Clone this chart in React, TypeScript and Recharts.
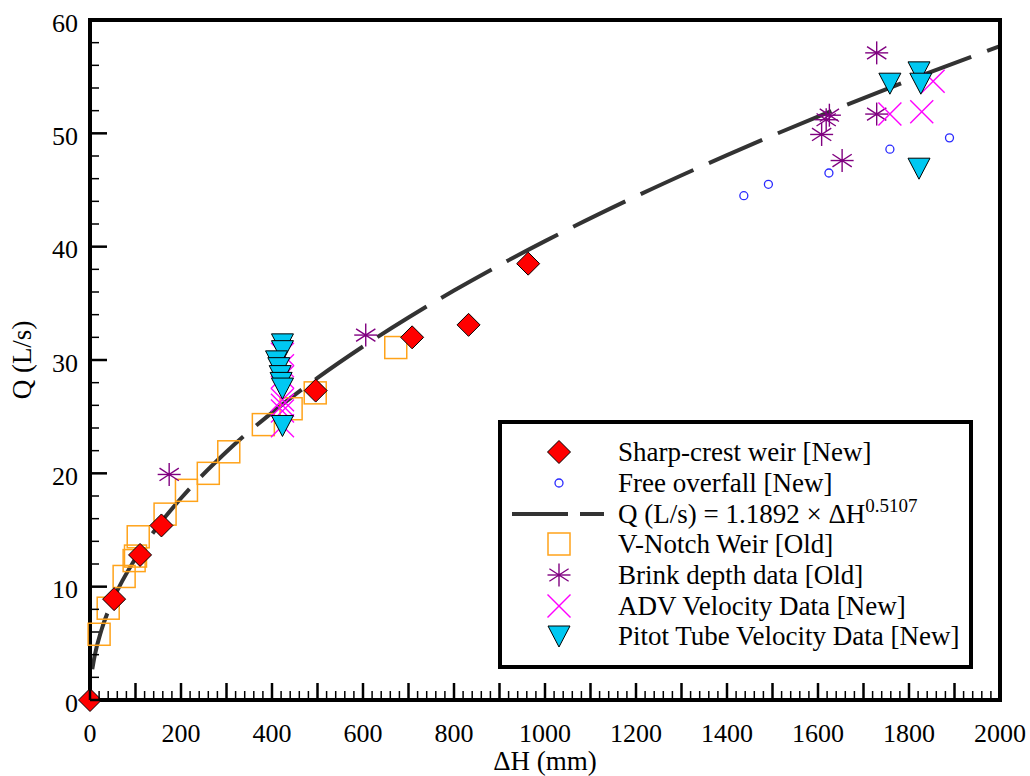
import React from "react";
import { ComposedChart, Scatter, Line, XAxis, YAxis, Legend } from "recharts";

// Sharp-crest weir [New]
const sharpDH = [0, 53, 110, 157, 496, 708, 832, 963];
const sharpQ = [0, 8.9, 12.8, 15.4, 27.3, 32.0, 33.1, 38.5];

// Free overfall [New]
const overfallDH = [1437, 1491, 1624, 1758, 1889];
const overfallQ = [44.5, 45.5, 46.5, 48.6, 49.6];

// V-Notch Weir [Old]
const vnotchDH = [20, 40, 75, 97, 100, 106, 165, 212, 260, 305, 381, 442, 495, 672];
const vnotchQ = [5.8, 8.1, 10.9, 12.3, 12.7, 14.4, 16.4, 18.5, 20.0, 21.9, 24.3, 25.7, 27.1, 31.1];

// Brink depth data [Old]
const brinkDH = [174, 606, 1608, 1618, 1625, 1653, 1729, 1729];
const brinkQ = [19.9, 32.2, 49.9, 51.2, 51.6, 47.6, 51.7, 57.1];

// ADV Velocity Data [New]
const advDH = [423, 423, 423, 423, 423, 423, 423, 1758, 1828, 1853];
const advQ = [30.5, 29.5, 28.5, 26.5, 26.0, 25.5, 24.2, 51.7, 51.9, 54.6];

// Pitot Tube Velocity Data [New]
const pitotDH = [423, 423, 410, 415, 418, 420, 423, 423, 1758, 1822, 1826, 1822];
const pitotQ = [31.6, 31.0, 30.1, 29.5, 28.8, 28.2, 27.7, 24.4, 54.6, 55.6, 54.6, 47.1];

// Q (L/s) = 1.1892 x dH^0.5107
const fitDH = [5, 10, 25, 50, 100, 150, 200, 300, 400, 500, 600, 700, 800, 900, 1000, 1200, 1400, 1600, 1800, 2000];
const fitQ = [2.71, 3.85, 6.15, 8.77, 12.49, 15.37, 17.8, 21.9, 25.36, 28.42, 31.19, 33.75, 36.13, 38.37, 40.49, 44.44, 48.08, 51.48, 54.68, 57.69];

const xLabels = [0, 200, 400, 600, 800, 1000, 1200, 1400, 1600, 1800, 2000];
const yLabels = [0, 10, 20, 30, 40, 50, 60];

const range = (a: number, b: number, step: number) => {
  const out: number[] = [];
  for (let v = a; v <= b + 1e-9; v += step) out.push(Math.round(v * 100) / 100);
  return out;
};
const xTicks = range(0, 2000, 20);
const yTicks = range(0, 60, 2);

const zip = (xs: number[], ys: number[]) => xs.map((dh, i) => ({ dh, q: ys[i] }));

const FONT = "'Liberation Serif', 'Times New Roman', serif";

const Diamond = ({ cx, cy }: any) => (
  <path
    d={`M${cx},${cy - 11.5}L${cx + 11.5},${cy}L${cx},${cy + 11.5}L${cx - 11.5},${cy}Z`}
    fill="#ff0000"
    stroke="#000"
    strokeWidth={1}
  />
);
const Circle = ({ cx, cy }: any) => (
  <circle cx={cx} cy={cy} r={4} fill="#fff" stroke="#2a2aff" strokeWidth={1.3} />
);
const Square = ({ cx, cy }: any) => (
  <rect x={cx - 11} y={cy - 11} width={22} height={22} fill="none" stroke="#ffa31a" strokeWidth={1.5} />
);
const Asterisk = ({ cx, cy }: any) => {
  const r = 11.5;
  const a = (33 * Math.PI) / 180;
  const dx = r * Math.cos(a);
  const dy = r * Math.sin(a);
  return (
    <g stroke="#800080" strokeWidth={1.4}>
      <line x1={cx} y1={cy - r} x2={cx} y2={cy + r} />
      <line x1={cx - r} y1={cy} x2={cx + r} y2={cy} />
      <line x1={cx - dx} y1={cy - dy} x2={cx + dx} y2={cy + dy} />
      <line x1={cx - dx} y1={cy + dy} x2={cx + dx} y2={cy - dy} />
      <circle cx={cx} cy={cy} r={1.6} fill="#800080" stroke="none" />
    </g>
  );
};
const Cross = ({ cx, cy }: any) => (
  <g stroke="#ff00ff" strokeWidth={1.4}>
    <line x1={cx - 11.5} y1={cy - 11.5} x2={cx + 11.5} y2={cy + 11.5} />
    <line x1={cx - 11.5} y1={cy + 11.5} x2={cx + 11.5} y2={cy - 11.5} />
  </g>
);
const Triangle = ({ cx, cy }: any) => (
  <path
    d={`M${cx - 11},${cy - 8}L${cx + 11},${cy - 8}L${cx},${cy + 13}Z`}
    fill="#00c8f2"
    stroke="#000"
    strokeWidth={1}
  />
);

const tickLen = (major: boolean) => (major ? 17 : 9);

const BottomTick = ({ x, y, payload }: any) => {
  const v = payload.value;
  const major = v % 100 === 0;
  return (
    <g>
      <line x1={x} x2={x} y1={y} y2={y - tickLen(major)} stroke="#000" strokeWidth={major ? 2.5 : 1.5} />
      {xLabels.includes(v) && (
        <text x={x} y={y + 42} textAnchor="middle" fontFamily={FONT} fontSize={26} fill="#000">
          {v}
        </text>
      )}
    </g>
  );
};
const TopTick = ({ x, y, payload }: any) => {
  const major = payload.value % 100 === 0;
  return <line x1={x} x2={x} y1={y} y2={y + tickLen(major)} stroke="#000" strokeWidth={major ? 2.5 : 1.5} />;
};
const LeftTick = ({ x, y, payload }: any) => {
  const v = payload.value;
  const major = v % 10 === 0;
  return (
    <g>
      <line x1={x} x2={x + tickLen(major)} y1={y} y2={y} stroke="#000" strokeWidth={major ? 2.5 : 1.5} />
      {yLabels.includes(v) && (
        <text x={x - 12} y={y + 11.5} textAnchor="end" fontFamily={FONT} fontSize={26} fill="#000">
          {v}
        </text>
      )}
    </g>
  );
};
const RightTick = ({ x, y, payload }: any) => {
  const major = payload.value % 10 === 0;
  return <line x1={x} x2={x - tickLen(major)} y1={y} y2={y} stroke="#000" strokeWidth={major ? 2.5 : 1.5} />;
};

const legendItems = [
  { key: "sharp", label: <>Sharp-crest weir [New]</>, icon: <Diamond cx={57} cy={15} /> },
  { key: "overfall", label: <>Free overfall [New]</>, icon: <Circle cx={57} cy={15} /> },
  {
    key: "fit",
    label: (
      <>
        Q (L/s) = 1.1892 × ΔH
        <sup style={{ fontSize: 19, verticalAlign: "11px", lineHeight: 0 }}>0.5107</sup>
      </>
    ),
    icon: (
      <g stroke="#333" strokeWidth={4}>
        <line x1={10} x2={66} y1={15} y2={15} />
        <line x1={78} x2={102} y1={15} y2={15} />
      </g>
    ),
  },
  { key: "vnotch", label: <>V-Notch Weir [Old]</>, icon: <Square cx={57} cy={15} /> },
  { key: "brink", label: <>Brink depth data [Old]</>, icon: <Asterisk cx={57} cy={15} /> },
  { key: "adv", label: <>ADV Velocity Data [New]</>, icon: <Cross cx={57} cy={15} /> },
  { key: "pitot", label: <>Pitot Tube Velocity Data [New]</>, icon: <Triangle cx={57} cy={13} /> },
];

const LegendBox = () => (
  <div
    style={{
      width: 467,
      height: 241,
      border: "4px solid #000",
      background: "#fff",
      boxSizing: "content-box",
      paddingTop: 0,
      fontFamily: FONT,
      fontSize: 27,
      color: "#000",
    }}
  >
    <div style={{ height: 13 }} />
    {legendItems.map((it) => (
      <div key={it.key} style={{ display: "flex", alignItems: "center", height: 30.7 }}>
        <svg width={116} height={30} style={{ flex: "none" }}>
          {it.icon}
        </svg>
        <span style={{ whiteSpace: "nowrap", lineHeight: "30px" }}>{it.label}</span>
      </div>
    ))}
  </div>
);

const axisLineStyle = { stroke: "#000", strokeWidth: 4, strokeLinecap: "square" as const };

export default function App() {
  return (
    <div style={{ position: "fixed", left: 0, top: 0, width: 1030, height: 776, background: "#fff" }}>
      <ComposedChart width={1030} height={776} margin={{ top: 10, right: 20, bottom: 16, left: 0 }}>
        <XAxis
          xAxisId="bottom"
          dataKey="dh"
          type="number"
          domain={[0, 2000]}
          ticks={xTicks}
          interval={0}
          tickSize={0}
          tickMargin={0}
          height={60}
          axisLine={axisLineStyle}
          tick={<BottomTick />}
          label={{
            content: ({ viewBox }: any) => (
              <text
                x={viewBox.x + viewBox.width / 2}
                y={viewBox.y + 70}
                textAnchor="middle"
                fontFamily={FONT}
                fontSize={27}
                fill="#000"
              >
                ΔH (mm)
              </text>
            ),
          }}
        />
        <XAxis
          xAxisId="top"
          orientation="top"
          dataKey="dh"
          type="number"
          domain={[0, 2000]}
          ticks={xTicks}
          interval={0}
          tickSize={0}
          tickMargin={0}
          height={10}
          axisLine={axisLineStyle}
          tick={<TopTick />}
        />
        <YAxis
          yAxisId="left"
          dataKey="q"
          type="number"
          domain={[0, 60]}
          ticks={yTicks}
          interval={0}
          tickSize={0}
          tickMargin={0}
          width={90}
          axisLine={axisLineStyle}
          tick={<LeftTick />}
          label={{
            content: ({ viewBox }: any) => {
              const cy = viewBox.y + viewBox.height / 2;
              return (
                <text
                  x={22}
                  y={cy}
                  transform={`rotate(-90, 22, ${cy})`}
                  textAnchor="middle"
                  dominantBaseline="central"
                  fontFamily={FONT}
                  fontSize={27}
                  fill="#000"
                >
                  Q (L/s)
                </text>
              );
            },
          }}
        />
        <YAxis
          yAxisId="right"
          orientation="right"
          dataKey="q"
          type="number"
          domain={[0, 60]}
          ticks={yTicks}
          interval={0}
          tickSize={0}
          tickMargin={0}
          width={10}
          axisLine={axisLineStyle}
          tick={<RightTick />}
        />
        <Legend
          layout="horizontal"
          verticalAlign="middle"
          align="center"
          content={() => <LegendBox />}
          wrapperStyle={{ left: 498, top: 420, width: 475, height: 249 }}
        />
        <Scatter
          name="V-Notch Weir [Old]"
          data={zip(vnotchDH, vnotchQ)}
          xAxisId="bottom"
          yAxisId="left"
          shape={<Square />}
          isAnimationActive={false}
        />
        <Line
          name="fit"
          data={zip(fitDH, fitQ)}
          dataKey="q"
          xAxisId="bottom"
          yAxisId="left"
          type="monotone"
          stroke="#333"
          strokeWidth={4}
          strokeDasharray="58 17"
          dot={false}
          activeDot={false}
          isAnimationActive={false}
        />
        <Scatter
          name="Brink depth data [Old]"
          data={zip(brinkDH, brinkQ)}
          xAxisId="bottom"
          yAxisId="left"
          shape={<Asterisk />}
          isAnimationActive={false}
        />
        <Scatter
          name="ADV Velocity Data [New]"
          data={zip(advDH, advQ)}
          xAxisId="bottom"
          yAxisId="left"
          shape={<Cross />}
          isAnimationActive={false}
        />
        <Scatter
          name="Free overfall [New]"
          data={zip(overfallDH, overfallQ)}
          xAxisId="bottom"
          yAxisId="left"
          shape={<Circle />}
          isAnimationActive={false}
        />
        <Scatter
          name="Sharp-crest weir [New]"
          data={zip(sharpDH, sharpQ)}
          xAxisId="bottom"
          yAxisId="left"
          shape={<Diamond />}
          isAnimationActive={false}
        />
        <Scatter
          name="Pitot Tube Velocity Data [New]"
          data={zip(pitotDH, pitotQ)}
          xAxisId="bottom"
          yAxisId="left"
          shape={<Triangle />}
          isAnimationActive={false}
        />
      </ComposedChart>
    </div>
  );
}
